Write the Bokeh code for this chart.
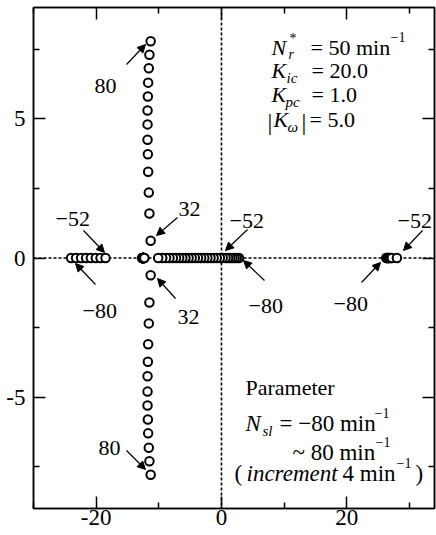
from bokeh.plotting import figure
from bokeh.models import Range1d, FixedTicker, LinearAxis, Span, Label, Arrow, NormalHead
from bokeh.embed import file_html
from bokeh.resources import INLINE

# ---------------- data ----------------
# Parameter N_sl from -80 to 80 min^-1, increment 4
nsl_left = [-80, -76, -72, -68, -64, -60, -56, -52]
left_real = [-24.0, -23.2, -22.4, -21.6, -20.85, -20.05, -19.3, -18.5]
right_real = [26.3, 26.4, 26.5, 26.62, 26.76, 26.92, 27.2, 28.0]

nsl_mid = list(range(-80, 29, 4))
mid_real = [2.8, 2.45, 2.1, 1.75, 1.4, 1.05, 0.65, 0.2,
            -0.25, -0.75, -1.25, -1.75, -2.25, -2.75, -3.25, -3.75,
            -4.25, -4.75, -5.25, -5.75, -6.25, -6.75, -7.25, -7.75,
            -8.3, -8.85, -9.45, -10.1]

nsl_pair = list(range(-48, 29, 4))
pair_real = [-12.62, -12.62, -12.61, -12.6, -12.6, -12.59, -12.58, -12.57,
             -12.56, -12.55, -12.54, -12.53, -12.52, -12.5, -12.48, -12.46,
             -12.43, -12.4, -12.35, -12.3]

nsl_cplx = list(range(32, 81, 4))
cplx_real = [-11.3, -11.5, -11.6, -11.7, -11.75, -11.8, -11.8, -11.8,
             -11.75, -11.7, -11.6, -11.5, -11.3]
cplx_imag = [0.62, 1.6, 2.35, 3.1, 3.73, 4.25, 4.8, 5.3, 5.8, 6.3, 6.82, 7.3, 7.79]

x_major = [-20, 0, 20]
x_minor = [-30, -10, 10, 30]
y_major = [-5, 0, 5]
y_minor = [-7.5, -2.5, 2.5, 7.5]

# ---------------- layout ----------------
W, H = 436, 535
XMIN, XMAX = -30.0, 34.0
YMIN, YMAX = -9.0, 9.0
FL, FT, FR, FB = 33, 7, 2, 27      # borders around the frame (px)
FW, FH = W - FL - FR, H - FT - FB
SX = FW / (XMAX - XMIN)
SY = FH / (YMAX - YMIN)


def X(px):
    return XMIN + (px - FL) / SX


def Y(py):
    return YMAX - (py - FT) / SY


FONT = "Liberation Serif"

p = figure(width=W, height=H,
           x_range=Range1d(XMIN, XMAX), y_range=Range1d(YMIN, YMAX),
           output_backend="svg", toolbar_location=None,
           min_border_left=FL, min_border_right=FR, min_border_top=FT, min_border_bottom=FB)
p.background_fill_color = "white"
p.border_fill_color = "white"
p.grid.visible = False
p.outline_line_color = "black"
p.outline_line_width = 1.5

for ax in (p.xaxis[0], p.yaxis[0]):
    ax.major_tick_in = 12
    ax.major_tick_out = 0
    ax.minor_tick_in = 6
    ax.minor_tick_out = 0
    ax.axis_line_width = 1.5
    ax.major_tick_line_width = 1.5
    ax.minor_tick_line_width = 1.5
    ax.major_label_text_font = FONT
    ax.major_label_text_font_size = "23px"
    ax.major_label_text_color = "black"

p.xaxis[0].ticker = FixedTicker(ticks=x_major, minor_ticks=x_minor)
p.yaxis[0].ticker = FixedTicker(ticks=y_major, minor_ticks=y_minor)
p.xaxis[0].major_label_overrides = {v: str(v) for v in x_major}
p.yaxis[0].major_label_overrides = {v: str(v) for v in y_major}
p.xaxis[0].major_label_standoff = 1
p.yaxis[0].major_label_standoff = 8

for loc, ticks, minors in (("above", x_major, x_minor), ("right", y_major, y_minor)):
    ax = LinearAxis(ticker=FixedTicker(ticks=ticks, minor_ticks=minors),
                    major_tick_in=12, major_tick_out=0, minor_tick_in=6, minor_tick_out=0,
                    major_label_text_font_size="0px", major_label_text_color=None,
                    major_label_standoff=0,
                    axis_line_width=1.5, major_tick_line_width=1.5, minor_tick_line_width=1.5)
    p.add_layout(ax, loc)

# dotted zero lines
p.add_layout(Span(location=0, dimension="width", line_color="black",
                  line_width=1.6, line_dash="3 2", level="underlay"))
p.add_layout(Span(location=0, dimension="height", line_color="black",
                  line_width=1.6, line_dash="3 2", level="underlay"))

circ = dict(size=8.5, marker="circle", fill_color="white", line_color="black", line_width=2.0)
zeros8 = [0.0 for _ in nsl_left]
p.scatter(left_real, zeros8, **circ)
p.scatter(right_real, zeros8, **circ)
p.scatter(pair_real, [0.0 for _ in nsl_pair], **circ)
p.scatter(mid_real, [0.0 for _ in nsl_mid], **circ)
p.scatter(cplx_real, cplx_imag, **circ)
p.scatter(cplx_real, [-v for v in cplx_imag], **circ)


# ---------------- annotations ----------------
def lab(text, px, py, size=22, italic=False):
    p.add_layout(Label(x=X(px), y=Y(py), text=text, text_font=FONT,
                       text_font_size=f"{size}px",
                       text_font_style="italic" if italic else "normal",
                       text_color="black", text_baseline="alphabetic",
                       text_align="left"))


def arrow(x0, y0, x1, y1):
    p.add_layout(Arrow(end=NormalHead(size=8, fill_color="black", line_color="black", line_width=1),
                       x_start=X(x0), y_start=Y(y0), x_end=X(x1), y_end=Y(y1),
                       line_color="black", line_width=1.2))


# point labels
lab("80", 94, 85)
arrow(126, 64, 145, 44)
lab("32", 178, 208)
arrow(177, 217, 156, 235)
lab("32", 177, 316)
arrow(175, 298, 157, 278)
lab("80", 98, 447)
arrow(126, 450, 145, 469)
lab("\u221252", 55, 218)
arrow(83, 230, 104, 252)
lab("\u221280", 82, 310)
arrow(95, 284, 75, 263)
lab("\u221252", 229, 220)
arrow(247, 229, 225, 250)
lab("\u221280", 248, 305)
arrow(264, 280, 243, 260)
lab("\u221280", 333, 303)
arrow(361, 282, 380, 262)
lab("\u221252", 397, 220)
arrow(422, 230, 403, 250)

# parameter block (top right)
lab("N", 271, 47, italic=True)
lab("*", 289, 38, 14)
lab("r", 288, 54, 14, italic=True)
lab("= 50 min", 310, 47)
lab("\u22121", 390, 36, 14)

lab("K", 271, 70, italic=True)
lab("ic", 286, 77, 15, italic=True)
lab("= 20.0", 311, 70)

lab("K", 271, 94, italic=True)
lab("pc", 285, 101, 15, italic=True)
lab("= 1.0", 311, 94)

lab("|", 267, 121, 24)
lab("K", 273, 119, italic=True)
lab("\u03c9", 287, 126, 15, italic=True)
lab("|", 301, 121, 24)
lab("= 5.0", 309, 119)

# parameter description (bottom right)
lab("Parameter", 245, 387)
lab("N", 245, 423, 23, italic=True)
lab("sl", 262, 430, 15, italic=True)
lab("= \u221280 min", 279, 423, 23)
lab("\u22121", 374, 412, 14)
lab("~ 80 min", 292, 452, 23)
lab("\u22121", 375, 441, 14)
lab("(", 234, 473, 23)
lab("increment", 246, 473, 23, italic=True)
lab("4 min", 342, 473, 23)
lab("\u22121", 396, 462, 14)
lab(")", 415, 473, 23)

open("out.html", "w").write(file_html(p, INLINE))
